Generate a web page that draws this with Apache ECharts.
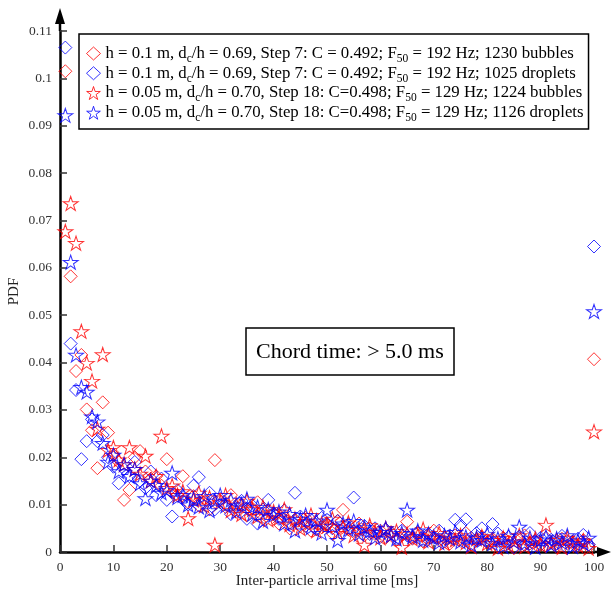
<!DOCTYPE html>
<html><head><meta charset="utf-8">
<script src="https://cdn.jsdelivr.net/npm/echarts@6/dist/echarts.min.js"></script>
<style>html,body{margin:0;padding:0;background:#fff}#c{width:612px;height:590px}</style>
</head><body><div id="c"></div>
<script>
// bin positions (ms); the last bin (100) collects all arrival times > 100 ms
const binTimes = Array.from({length: 100}, (_, i) => i + 1);

const redDiamond = [0.1015,0.0582,0.0382,0.0416,0.0301,0.0257,0.0177,0.0316,0.0252,0.0205,
0.0190,0.0110,0.0131,0.0200,0.0213,0.0170,0.0155,0.0160,0.0140,0.0196,
0.0125,0.0120,0.0160,0.0105,0.0118,0.0098,0.0112,0.0090,0.0194,0.0108,
0.0095,0.0120,0.0085,0.0100,0.0078,0.0092,0.0105,0.0070,0.0088,0.0080,
0.0060,0.0075,0.0050,0.0068,0.0055,0.0072,0.0045,0.0062,0.0052,0.0058,
0.0040,0.0066,0.0089,0.0048,0.0042,0.0060,0.0035,0.0050,0.0038,0.0045,
0.0030,0.0042,0.0025,0.0036,0.0064,0.0028,0.0040,0.0022,0.0032,0.0045,
0.0025,0.0030,0.0018,0.0035,0.0028,0.0040,0.0015,0.0025,0.0032,0.0020,
0.0028,0.0012,0.0030,0.0022,0.0008,0.0025,0.0035,0.0018,0.0024,0.0015,
0.0030,0.0020,0.0010,0.0028,0.0022,0.0018,0.0012,0.0025,0.0015,0.0407];

const blueDiamond = [0.1065,0.0440,0.0342,0.0196,0.0234,0.0280,0.0234,0.0247,0.0200,0.0180,
0.0145,0.0175,0.0160,0.0190,0.0150,0.0135,0.0170,0.0120,0.0155,0.0110,
0.0075,0.0130,0.0118,0.0100,0.0140,0.0158,0.0105,0.0125,0.0090,0.0112,
0.0100,0.0080,0.0095,0.0108,0.0070,0.0098,0.0060,0.0090,0.0110,0.0082,
0.0070,0.0088,0.0062,0.0125,0.0075,0.0055,0.0068,0.0048,0.0072,0.0060,
0.0050,0.0065,0.0042,0.0058,0.0115,0.0045,0.0055,0.0038,0.0050,0.0032,
0.0048,0.0040,0.0028,0.0045,0.0035,0.0030,0.0042,0.0025,0.0038,0.0030,
0.0045,0.0022,0.0035,0.0068,0.0057,0.0069,0.0030,0.0040,0.0050,0.0025,
0.0059,0.0039,0.0020,0.0032,0.0010,0.0028,0.0015,0.0040,0.0022,0.0030,
0.0012,0.0026,0.0018,0.0034,0.0008,0.0022,0.0028,0.0036,0.0016,0.0645];

const redStar = [0.0677,0.0736,0.0652,0.0466,0.0399,0.0361,0.0260,0.0417,0.0215,0.0221,
0.0195,0.0185,0.0221,0.0175,0.0165,0.0203,0.0150,0.0160,0.0245,0.0135,
0.0140,0.0120,0.0128,0.0071,0.0110,0.0125,0.0098,0.0115,0.0015,0.0105,
0.0120,0.0088,0.0100,0.0080,0.0108,0.0090,0.0075,0.0095,0.0068,0.0085,
0.0072,0.0090,0.0058,0.0070,0.0050,0.0065,0.0078,0.0045,0.0060,0.0055,
0.0070,0.0040,0.0052,0.0062,0.0035,0.0048,0.0015,0.0056,0.0042,0.0030,
0.0050,0.0036,0.0044,0.0010,0.0038,0.0028,0.0035,0.0048,0.0022,0.0032,
0.0040,0.0018,0.0030,0.0026,0.0035,0.0020,0.0012,0.0028,0.0033,0.0018,
0.0025,0.0008,0.0030,0.0015,0.0022,0.0035,0.0012,0.0020,0.0028,0.0015,
0.0057,0.0018,0.0025,0.0010,0.0030,0.0020,0.0014,0.0024,0.0008,0.0254];

const blueStar = [0.0922,0.0612,0.0416,0.0348,0.0338,0.0286,0.0275,0.0230,0.0190,0.0205,
0.0170,0.0185,0.0160,0.0175,0.0145,0.0113,0.0150,0.0141,0.0125,0.0130,
0.0167,0.0115,0.0120,0.0100,0.0112,0.0095,0.0118,0.0088,0.0108,0.0120,
0.0098,0.0110,0.0085,0.0100,0.0112,0.0080,0.0095,0.0065,0.0090,0.0078,
0.0085,0.0060,0.0080,0.0045,0.0070,0.0078,0.0052,0.0066,0.0040,0.0089,
0.0055,0.0025,0.0060,0.0048,0.0065,0.0038,0.0052,0.0045,0.0030,0.0042,
0.0050,0.0035,0.0028,0.0040,0.0089,0.0033,0.0045,0.0025,0.0038,0.0030,
0.0020,0.0035,0.0028,0.0042,0.0022,0.0032,0.0015,0.0030,0.0025,0.0038,
0.0018,0.0028,0.0012,0.0034,0.0022,0.0053,0.0018,0.0030,0.0010,0.0026,
0.0032,0.0015,0.0028,0.0020,0.0035,0.0012,0.0024,0.0018,0.0030,0.0508];

const seriesNames = [
  'h = 0.1 m, dc/h = 0.69, Step 7: C = 0.492; F50 = 192 Hz; 1230 bubbles',
  'h = 0.1 m, dc/h = 0.69, Step 7: C = 0.492; F50 = 192 Hz; 1025 droplets',
  'h = 0.05 m, dc/h = 0.70, Step 18: C=0.498; F50 = 129 Hz; 1224 bubbles',
  'h = 0.05 m, dc/h = 0.70, Step 18: C=0.498; F50 = 129 Hz; 1126 droplets'
];
const legendRich = [
  'h = 0.1 m, d{s|c}/h = 0.69, Step 7: C = 0.492; F{s|50} = 192 Hz; 1230 bubbles',
  'h = 0.1 m, d{s|c}/h = 0.69, Step 7: C = 0.492; F{s|50} = 192 Hz; 1025 droplets',
  'h = 0.05 m, d{s|c}/h = 0.70, Step 18: C=0.498; F{s|50} = 129 Hz; 1224 bubbles',
  'h = 0.05 m, d{s|c}/h = 0.70, Step 18: C=0.498; F{s|50} = 129 Hz; 1126 droplets'
];
const xTicks = [0,10,20,30,40,50,60,70,80,90,100];
const yTicks = [0,0.01,0.02,0.03,0.04,0.05,0.06,0.07,0.08,0.09,0.1,0.11];
const boxText = 'Chord time: > 5.0 ms';
const xTitle = 'Inter-particle arrival time [ms]';
const yTitle = 'PDF';

const FONT = '"Liberation Serif", "Times New Roman", serif';
const RED = '#ff0000', BLUE = '#0000ff';
const STAR = 'path://M50,0 L61.17,34.63 L97.55,34.55 L68.07,55.87 L79.39,90.45 L50,69 L20.61,90.45 L31.93,55.87 L2.45,34.55 L38.83,34.63 Z';
const markers = [
  {data: redDiamond, color: RED, symbol: 'diamond', size: [13, 13]},
  {data: blueDiamond, color: BLUE, symbol: 'diamond', size: [13, 13]},
  {data: redStar, color: RED, symbol: STAR, size: [15, 14]},
  {data: blueStar, color: BLUE, symbol: STAR, size: [15, 14]}
];

const chart = echarts.init(document.getElementById('c'), null, {renderer: 'canvas'});

const series = markers.map((m, i) => ({
  name: seriesNames[i],
  type: 'scatter',
  symbol: m.symbol,
  symbolSize: m.size,
  data: binTimes.map((t, k) => [t, m.data[k]]),
  itemStyle: {color: 'rgba(0,0,0,0)', borderColor: m.color, borderWidth: 1},
  emphasis: {disabled: true},
  animation: false
}));

chart.setOption({
  animation: false,
  backgroundColor: '#fff',
  textStyle: {fontFamily: FONT},
  grid: {left: 60, right: 18, top: 31, bottom: 38, containLabel: false, outerBoundsMode: 'none'},
  title: {
    text: boxText, left: 246, top: 328, padding: [12, 10, 11, 10],
    borderColor: '#000', borderWidth: 1.5,
    textStyle: {fontFamily: FONT, fontSize: 22, fontWeight: 'normal', color: '#000', lineHeight: 24}
  },
  legend: {
    orient: 'vertical', left: 79, top: 34,
    padding: [11, 5, 5, 7], itemGap: 0,
    itemWidth: 14, itemHeight: 13,
    borderColor: '#000', borderWidth: 1.5,
    selectedMode: false,
    data: seriesNames.map((n, i) => ({
      name: n, icon: markers[i].symbol,
      itemStyle: {color: 'rgba(0,0,0,0)', borderColor: markers[i].color, borderWidth: 1}
    })),
    formatter: name => legendRich[seriesNames.indexOf(name)],
    textStyle: {
      fontFamily: FONT, fontSize: 16.8, color: '#000', lineHeight: 14.5,
      rich: {s: {fontFamily: FONT, fontSize: 11.5, color: '#000', verticalAlign: 'bottom', lineHeight: 14.5, padding: [0, 0, -4, 0]}}
    }
  },
  xAxis: {
    type: 'value', min: xTicks[0], max: xTicks[xTicks.length - 1], interval: 10,
    name: xTitle, nameLocation: 'middle', nameGap: 22, nameMoveOverlap: false,
    nameTextStyle: {fontFamily: FONT, fontSize: 15, color: '#222'},
    axisLine: {show: true, onZero: false, lineStyle: {color: '#000', width: 2.5}},
    axisTick: {show: true, inside: true, length: 7, lineStyle: {color: '#333', width: 1.5}},
    axisLabel: {fontFamily: FONT, fontSize: 13.5, color: '#333', margin: 8},
    splitLine: {show: false}
  },
  yAxis: {
    type: 'value', min: yTicks[0], max: yTicks[yTicks.length - 1], interval: 0.01,
    name: yTitle, nameLocation: 'middle', nameGap: 38, nameRotate: 90, nameMoveOverlap: false,
    nameTextStyle: {fontFamily: FONT, fontSize: 15, color: '#222'},
    axisLine: {show: true, onZero: false, lineStyle: {color: '#000', width: 2.5}},
    axisTick: {show: true, inside: true, length: 7, lineStyle: {color: '#333', width: 1.5}},
    axisLabel: {fontFamily: FONT, fontSize: 13.5, color: '#333', margin: 8,
      formatter: v => String(+v.toFixed(2))},
    splitLine: {show: false}
  },
  series: series
});

// axis arrows
const o = chart.convertToPixel({gridIndex: 0}, [xTicks[0], yTicks[0]]);
const e = chart.convertToPixel({gridIndex: 0}, [xTicks[xTicks.length - 1], yTicks[yTicks.length - 1]]);
chart.setOption({
  graphic: [
    {type: 'line', shape: {x1: o[0], y1: e[1], x2: o[0], y2: e[1] - 12}, style: {stroke: '#000', lineWidth: 2.5}},
    {type: 'polygon', shape: {points: [[o[0], e[1] - 23], [o[0] - 5, e[1] - 7], [o[0] + 5, e[1] - 7]]}, style: {fill: '#000'}},
    {type: 'line', shape: {x1: e[0], y1: o[1], x2: e[0] + 6, y2: o[1]}, style: {stroke: '#000', lineWidth: 2.5}},
    {type: 'polygon', shape: {points: [[e[0] + 17, o[1]], [e[0] + 3, o[1] - 5], [e[0] + 3, o[1] + 5]]}, style: {fill: '#000'}}
  ]
});
</script>
</body></html>
